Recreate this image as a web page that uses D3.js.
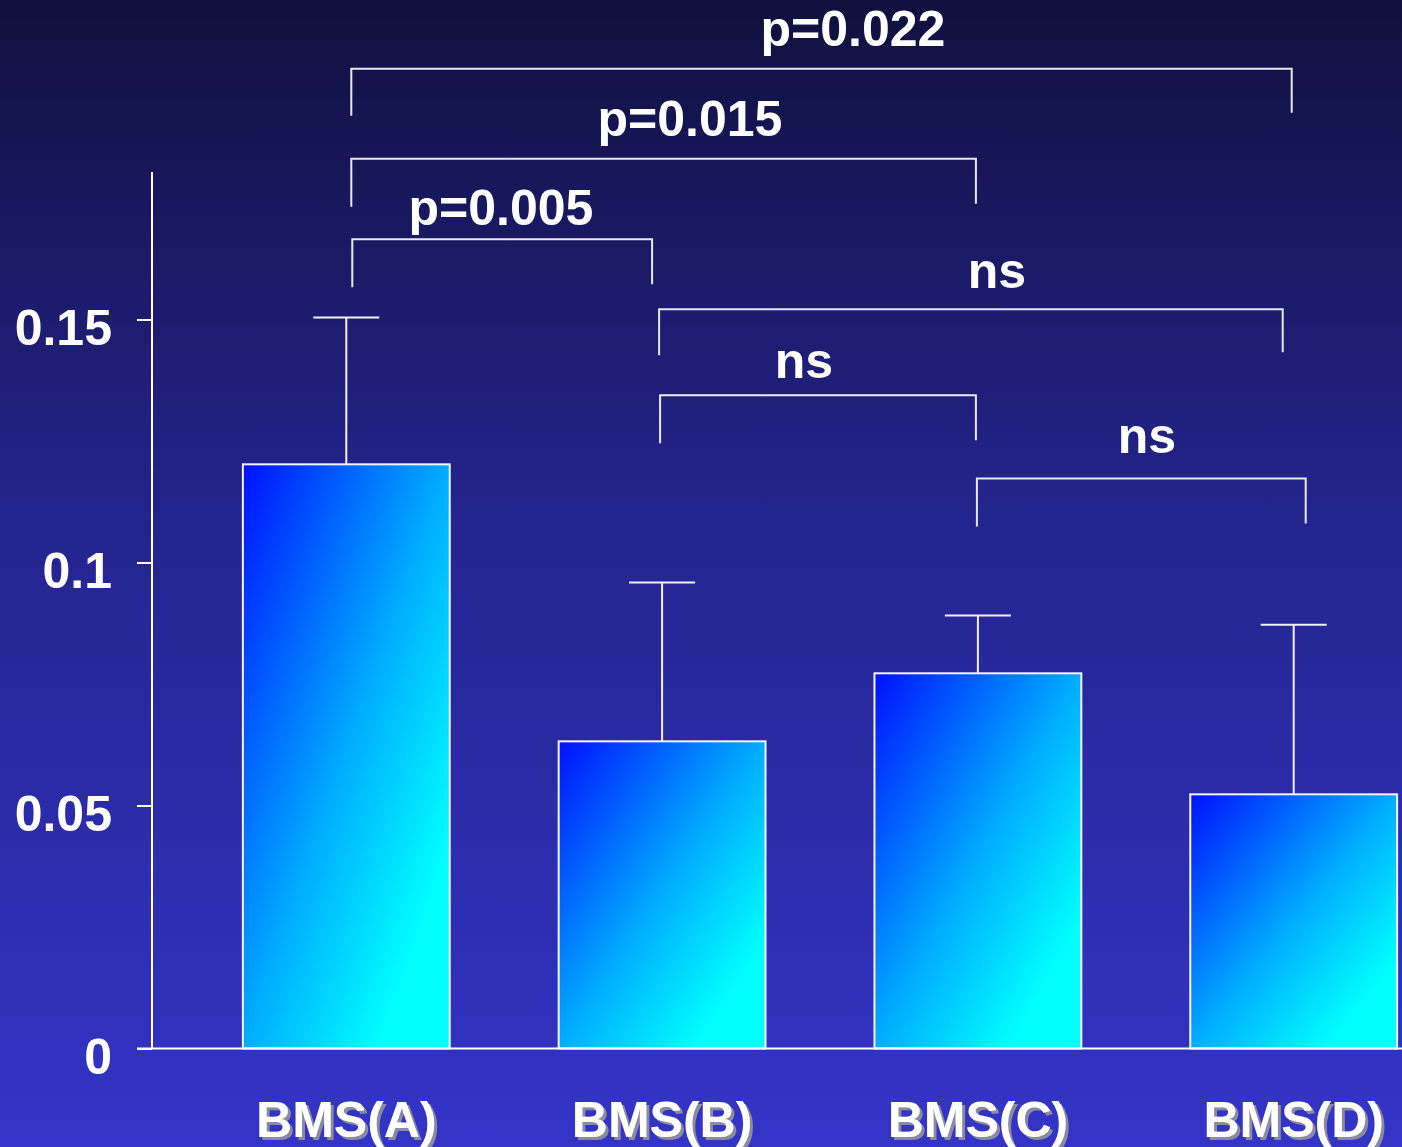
<!DOCTYPE html>
<meta charset="utf-8">
<style>
body { margin: 0; }
text { font-family: Arial, "Liberation Sans", sans-serif; font-weight: bold; }
</style>
<body>
<svg width="1402" height="1147"></svg>
<script src="https://d3js.org/d3.v7.min.js"></script>
<script>
    // data
    var groups = ["BMS(A)", "BMS(B)", "BMS(C)", "BMS(D)"];
    var means = [0.1202, 0.0632, 0.0772, 0.0523];
    var errors = [0.0302, 0.0327, 0.0119, 0.0349];
    var yTicks = [0, 0.05, 0.1, 0.15];
    var tickLabels = ["0", "0.05", "0.1", "0.15"];

    // comparisons: from group, to group, label, bracket level (in y units)
    var compFrom = [0, 0, 0, 1, 1, 2];
    var compTo = [3, 2, 1, 3, 2, 3];
    var compLabels = ["p=0.022", "p=0.015", "p=0.005", "ns", "ns", "ns"];
    var compLevels = [0.2016, 0.1831, 0.1665, 0.1521, 0.1344, 0.1173];

    // layout tweaks for the brackets (pixels)
    var bracketLayout = [
        {dl: 5, dr: -2, drop: 47, tx: 853, ty: 23},
        {dl: 5, dr: -2, drop: 48, tx: 690, ty: 23},
        {dl: 6, dr: -10, drop: 48, tx: 501, ty: 14},
        {dl: -3, dr: -11, drop: 46, tx: 997, ty: 21},
        {dl: -2, dr: -2, drop: 48, tx: 804, ty: 17},
        {dl: -1, dr: 12, drop: 48, tx: 1147, ty: 25}
    ];

    var svg = d3.select("svg");
    var W = 1402, H = 1147;

    var defs = svg.append("defs");
    var bg = defs.append("linearGradient")
        .attr("id", "bg")
        .attr("x1", 0).attr("y1", 0).attr("x2", 0).attr("y2", 1);
    bg.append("stop").attr("offset", "0%").attr("stop-color", "#10103e");
    bg.append("stop").attr("offset", "45%").attr("stop-color", "#24248e");
    bg.append("stop").attr("offset", "100%").attr("stop-color", "#3434c8");

    var barGrad = defs.append("linearGradient")
        .attr("id", "bar")
        .attr("x1", 0).attr("y1", 0).attr("x2", 1).attr("y2", 1);
    barGrad.append("stop").attr("offset", "0%").attr("stop-color", "#0010ff");
    barGrad.append("stop").attr("offset", "50%").attr("stop-color", "#00adff");
    barGrad.append("stop").attr("offset", "83%").attr("stop-color", "#00ffff");
    barGrad.append("stop").attr("offset", "100%").attr("stop-color", "#00ffff");

    var shadow = defs.append("filter")
        .attr("id", "shadow")
        .attr("x", "-10%").attr("y", "-20%")
        .attr("width", "130%").attr("height", "150%");
    shadow.append("feDropShadow")
        .attr("dx", 3).attr("dy", 3)
        .attr("stdDeviation", 0.6)
        .attr("flood-color", "#8a8aa0")
        .attr("flood-opacity", 1);

    svg.append("rect")
        .attr("width", W).attr("height", H)
        .attr("fill", "url(#bg)");

    var x = d3.scaleBand()
        .domain(groups)
        .range([188.4, 1451.6])
        .paddingInner(0.345)
        .paddingOuter(0.1725);

    var y = d3.scaleLinear()
        .domain([0, 0.18])
        .range([1048.5, 173.7]);

    function cx(i) { return x(groups[i]) + x.bandwidth() / 2; }

    // bars
    svg.selectAll(".bar")
        .data(means)
        .enter().append("rect")
        .attr("class", "bar")
        .attr("x", function(d, i) { return x(groups[i]); })
        .attr("y", function(d) { return y(d); })
        .attr("width", x.bandwidth())
        .attr("height", function(d) { return y(0) - y(d); })
        .attr("fill", "url(#bar)")
        .attr("stroke", "#f4f4ff")
        .attr("stroke-width", 2);

    // error bars
    svg.selectAll(".err")
        .data(means)
        .enter().append("line")
        .attr("class", "err")
        .attr("x1", function(d, i) { return cx(i); })
        .attr("x2", function(d, i) { return cx(i); })
        .attr("y1", function(d) { return y(d); })
        .attr("y2", function(d, i) { return y(d + errors[i]); })
        .attr("stroke", "#f0f0ff")
        .attr("stroke-width", 2);

    svg.selectAll(".cap")
        .data(means)
        .enter().append("line")
        .attr("class", "cap")
        .attr("x1", function(d, i) { return cx(i) - 33; })
        .attr("x2", function(d, i) { return cx(i) + 33; })
        .attr("y1", function(d, i) { return y(d + errors[i]); })
        .attr("y2", function(d, i) { return y(d + errors[i]); })
        .attr("stroke", "#f0f0ff")
        .attr("stroke-width", 2);

    // y axis
    var yAxis = svg.append("g")
        .attr("transform", "translate(152,0)")
        .call(d3.axisLeft(y)
            .tickValues(yTicks)
            .tickSize(15)
            .tickPadding(25)
            .tickFormat(function(d, i) { return tickLabels[i]; }));
    yAxis.select(".domain").remove();
    yAxis.selectAll("line").attr("stroke", "#ffffff").attr("stroke-width", 2);
    yAxis.selectAll("text")
        .attr("fill", "#ffffff")
        .attr("font-size", "50px")
        .attr("font-family", "Arial, 'Liberation Sans', sans-serif")
        .attr("font-weight", "bold")
        .attr("dy", "0.5em");

    svg.append("line")
        .attr("x1", 152).attr("x2", 152)
        .attr("y1", 172).attr("y2", y(0))
        .attr("stroke", "#ffffff").attr("stroke-width", 2);

    // x axis baseline
    svg.append("line")
        .attr("x1", 137).attr("x2", W)
        .attr("y1", y(0)).attr("y2", y(0))
        .attr("stroke", "#ffffff").attr("stroke-width", 2);

    // group labels with shadow
    svg.selectAll(".lab")
        .data(groups)
        .enter().append("text")
        .attr("class", "lab")
        .attr("x", function(d, i) { return cx(i); })
        .attr("y", 1137)
        .attr("text-anchor", "middle")
        .attr("font-size", "50px")
        .attr("fill", "#ffffff")
        .attr("filter", "url(#shadow)")
        .text(function(d) { return d; });

    // significance brackets
    compLabels.forEach(function(label, k) {
        var L = bracketLayout[k];
        var yl = y(compLevels[k]);
        var x1 = cx(compFrom[k]) + L.dl;
        var x2 = cx(compTo[k]) + L.dr;
        svg.append("path")
            .attr("d", "M" + x1 + "," + (yl + L.drop) + "V" + yl + "H" + x2 + "V" + (yl + L.drop - 3))
            .attr("fill", "none")
            .attr("stroke", "#e8e8f4")
            .attr("stroke-width", 2);
        svg.append("text")
            .attr("x", L.tx)
            .attr("y", yl - L.ty)
            .attr("text-anchor", "middle")
            .attr("font-size", "50px")
            .attr("fill", "#ffffff")
            .text(label);
    });
</script>
</body>
